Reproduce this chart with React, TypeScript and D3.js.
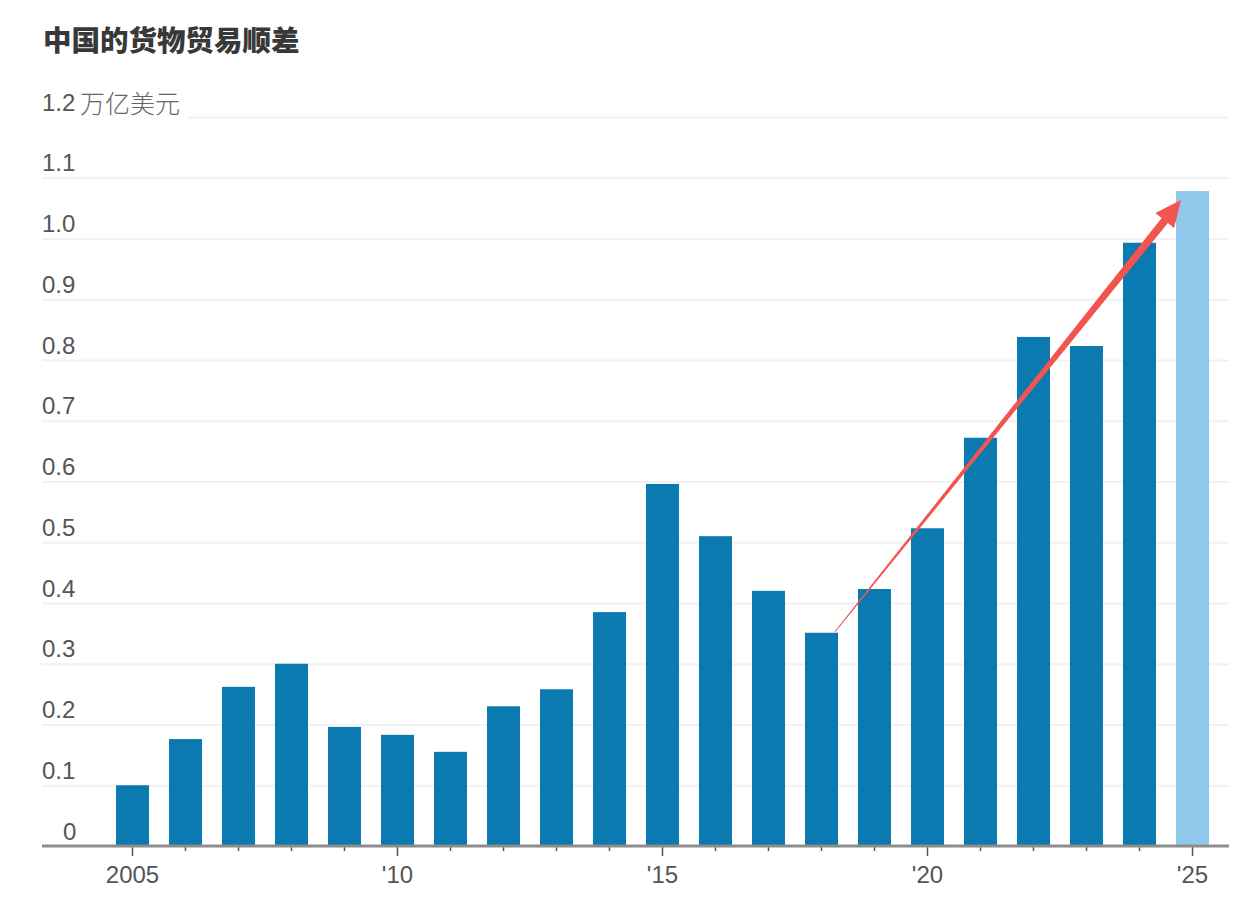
import React, { useEffect, useRef } from "react";
import * as d3 from "d3";

const years = [2005, 2006, 2007, 2008, 2009, 2010, 2011, 2012, 2013, 2014, 2015, 2016, 2017, 2018, 2019, 2020, 2021, 2022, 2023, 2024, 2025];
const surplus = [0.1, 0.176, 0.262, 0.3, 0.196, 0.183, 0.155, 0.23, 0.258, 0.385, 0.596, 0.51, 0.42, 0.351, 0.423, 0.523, 0.672, 0.838, 0.823, 0.993, 1.078];
const yTicks = [0, 0.1, 0.2, 0.3, 0.4, 0.5, 0.6, 0.7, 0.8, 0.9, 1.0, 1.1, 1.2];
const labeledYears = [2005, 2010, 2015, 2020, 2025];
const title = "中国的货物贸易顺差";
const unit = "万亿美元";
const latinFont = "'Liberation Sans', Arial, 'Noto Sans CJK SC', sans-serif";

const App: React.FC = () => {
	const ref = useRef<SVGSVGElement>(null);

	useEffect(() => {
		const svg = d3.select(ref.current);
		svg.selectAll("*").remove();

		const x = d3
			.scaleBand<number>()
			.domain(years)
			.range([96, 1229])
			.padding(0.377);
		const y = d3.scaleLinear().domain([0, 1.2]).range([846, 117]);
		const left = 42;

		svg.append("text")
			.attr("x", 43)
			.attr("y", 51)
			.attr("font-family", "'Noto Sans CJK SC', sans-serif")
			.attr("font-size", 28.5)
			.attr("font-weight", 900)
			.attr("fill", "#383838")
			.text(title);

		// gridlines + left aligned labels that sit above the line
		const yAxis = svg
			.append("g")
			.attr("transform", `translate(${left},0)`)
			.call(
				d3
					.axisRight(y)
					.tickValues(yTicks)
					.tickSize(1187)
					.tickFormat((d) => (+d === 0 ? "0" : d3.format(".1f")(+d)))
			);
		yAxis.select(".domain").remove();
		yAxis.selectAll(".tick line")
			.attr("stroke", "#f1f1f1")
			.attr("stroke-width", 2)
			.attr("x1", (d) => (+d === 1.2 ? 145 : 0))
			.style("display", (d) => (+d === 0 ? "none" : null));
		yAxis.selectAll(".tick text")
			.attr("x", (d) => (+d === 0 ? 21 : 0))
			.attr("y", -7)
			.attr("dy", 0)
			.attr("text-anchor", "start")
			.attr("font-family", latinFont)
			.attr("font-size", 24)
			.attr("fill", "#555");

		svg.append("text")
			.attr("x", 80)
			.attr("y", y(1.2) - 4)
			.attr("font-family", "'Noto Sans CJK SC', sans-serif")
			.attr("font-size", 25)
			.attr("font-weight", 300)
			.attr("fill", "#666")
			.text(unit);

		svg.append("g")
			.selectAll("rect")
			.data(years)
			.join("rect")
			.attr("x", (d) => x(d) as number)
			.attr("y", (_, i) => y(surplus[i]))
			.attr("width", x.bandwidth())
			.attr("height", (_, i) => y(0) - y(surplus[i]))
			.attr("fill", (d) => (d === 2025 ? "#90c8ec" : "#0a7ab0"));

		const xAxis = svg
			.append("g")
			.attr("transform", `translate(0,${y(0)})`)
			.call(
				d3
					.axisBottom(x)
					.tickSizeOuter(0)
					.tickFormat((d) => (+d === 2005 ? "2005" : labeledYears.includes(+d) ? `'${String(d).slice(2)}` : ""))
			);
		xAxis.select(".domain").remove();
		xAxis.selectAll(".tick line")
			.attr("stroke", "#555")
			.attr("stroke-width", 1.5)
			.attr("y2", (d) => (labeledYears.includes(+d) ? 10 : 5));
		xAxis.selectAll(".tick text")
			.attr("y", 20)
			.attr("dy", "0.71em")
			.attr("font-family", latinFont)
			.attr("font-size", 24)
			.attr("fill", "#555");

		svg.append("line")
			.attr("x1", left)
			.attr("x2", 1229)
			.attr("y1", y(0))
			.attr("y2", y(0))
			.attr("stroke", "#8c8c8c")
			.attr("stroke-width", 3);

		// red tapered arrow, from the top of the 2018 bar to the 2025 bar
		const startX = (x(2018) as number) + x.bandwidth() - 3;
		const startY = y(surplus[years.indexOf(2018)]) - 1;
		const tipX = (x(2025) as number) + 5;
		const tipY = y(surplus[years.indexOf(2025)]) + 9;
		const angle = Math.atan2(tipY - startY, tipX - startX);
		const nx = -Math.sin(angle);
		const ny = Math.cos(angle);
		const ux = Math.cos(angle);
		const uy = Math.sin(angle);
		const headLen = 26;
		const neck: [number, number] = [tipX - ux * headLen, tipY - uy * headLen];
		const arrow: [number, number][] = [
			[startX - nx * 0.5, startY - ny * 0.5],
			[neck[0] - nx * 4, neck[1] - ny * 4],
			[neck[0] - nx * 12, neck[1] - ny * 12],
			[tipX, tipY],
			[neck[0] + nx * 12, neck[1] + ny * 12],
			[neck[0] + nx * 4, neck[1] + ny * 4],
			[startX + nx * 0.5, startY + ny * 0.5],
		];
		svg.append("path")
			.attr("d", d3.line()(arrow) + "Z")
			.attr("fill", "#f25450");
	}, []);

	return <svg ref={ref} width={1256} height={902} style={{ position: "absolute", left: 0, top: 0, background: "#fff" }} />;
};

export default App;
